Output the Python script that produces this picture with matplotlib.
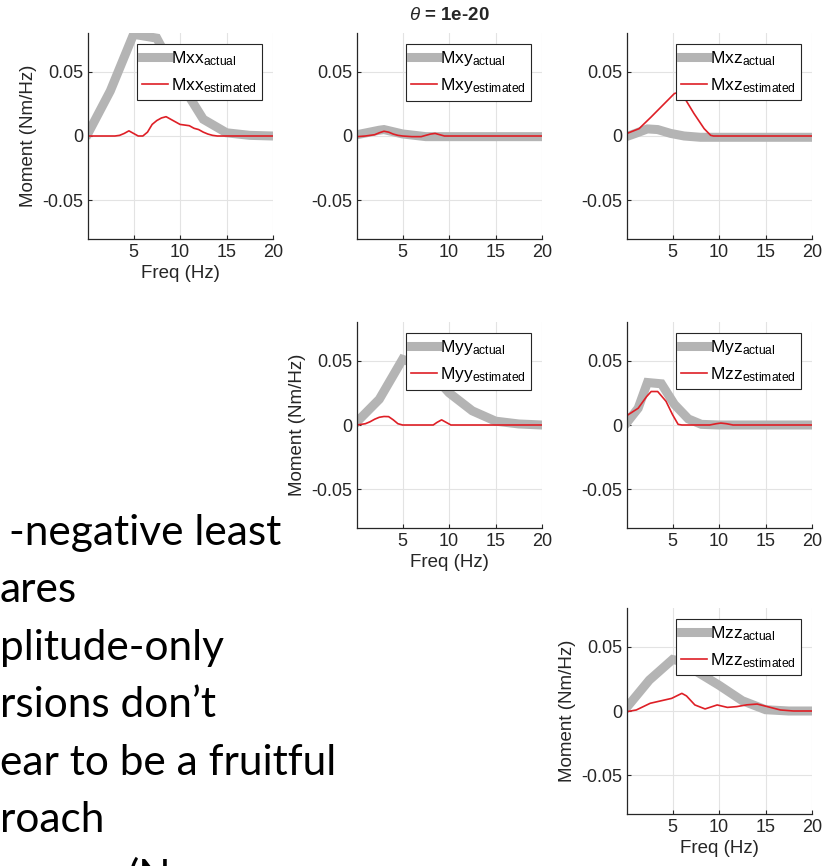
#%%
# estimated vs actual moment spectra, non-negative least squares (theta = 1e-20)
import matplotlib
matplotlib.use('Agg')
import matplotlib.pyplot as plt

# %%
# values, freq in Hz, moment in Nm/Hz
mxx_act_f = [0.1, 2.5, 5, 7.5, 10, 12.5, 15, 17.5, 20]
mxx_act = [0.002, 0.035, 0.079, 0.076, 0.042, 0.013, 0.0025, 0.0005, 0.0]
mxx_est_f = [0.1, 1, 2, 3, 3.5, 4, 4.5, 5, 5.5, 6, 6.5, 7, 7.5, 8, 8.5, 9, 9.5,
             10, 10.5, 11, 11.5, 12, 12.5, 13, 13.5, 14, 15, 20]
mxx_est = [0, 0, 0, 0, 0.0005, 0.002, 0.004, 0.002, 0, 0, 0.003, 0.009, 0.012,
           0.014, 0.015, 0.013, 0.011, 0.009, 0.0085, 0.008, 0.006, 0.005, 0.003,
           0.0015, 0.0005, 0, 0, 0]

mxy_act_f = [0.1, 2.5, 3, 5, 7.5, 10, 12.5, 15, 17.5, 20]
mxy_act = [0.001, 0.0045, 0.005, 0.0016, -0.0005, -0.0005, -0.0005, -0.0005, -0.0005, -0.0005]
mxy_est_f = [0.1, 1, 2, 2.5, 3, 3.5, 4, 4.5, 5, 6, 7, 7.5, 8, 8.5, 9, 9.5, 20]
mxy_est = [-0.0005, 0, 0.001, 0.0025, 0.0037, 0.003, 0.0015, 0.0005, 0, -0.0005,
           -0.0005, 0.0005, 0.0015, 0.002, 0.001, 0, 0]

mxz_act_f = [0.1, 1, 2.3, 3.4, 4.8, 6.25, 8, 10, 20]
mxz_act = [-0.0003, 0.002, 0.0055, 0.005, 0.002, 0.0, -0.001, -0.001, -0.001]
mxz_est_f = [0.1, 1.4, 2.7, 4.1, 5.2, 5.7, 6.25, 7.3, 8.4, 9.1, 9.4, 20]
mxz_est = [0.002, 0.0057, 0.0148, 0.025, 0.033, 0.034, 0.030, 0.0175, 0.0057, 0.0005, 0, 0]

myy_act_f = [0.1, 2.5, 5, 7.5, 10, 12.5, 15, 17.5, 20]
myy_act = [0.0025, 0.02, 0.051, 0.045, 0.025, 0.011, 0.003, 0.0008, 0.0]
myy_est_f = [0.1, 1, 1.5, 2, 2.5, 3, 3.5, 4, 4.5, 5, 8.3, 8.7, 9.2, 9.7, 10.2, 20]
myy_est = [0, 0.001, 0.0025, 0.0045, 0.006, 0.0066, 0.0065, 0.004, 0.001, 0, 0,
           0.002, 0.004, 0.002, 0, 0]

myz_act_f = [0.1, 1.3, 2.3, 3.8, 5.2, 6.7, 8.1, 10, 20]
myz_act = [0.002, 0.013, 0.033, 0.032, 0.016, 0.0047, 0.0005, 0, 0]
mzz_est2_f = [0.1, 1.3, 2.2, 2.7, 3.4, 4.3, 5.0, 5.6, 6, 9, 9.7, 10.2, 10.8, 11.5, 20]
mzz_est2 = [0.0074, 0.013, 0.022, 0.026, 0.026, 0.0184, 0.008, 0.0005, 0, 0,
            0.001, 0.0015, 0.001, 0, 0]

mzz_act_f = [0.1, 2.5, 5, 6.3, 7.5, 10, 12.5, 15, 17.5, 20]
mzz_act = [0.003, 0.024, 0.04, 0.038, 0.031, 0.02, 0.008, 0.001, 0.0, 0.0]
mzz_est_f = [0.1, 1.1, 2.6, 4.9, 6.0, 6.5, 7.4, 8.5, 9.8, 10.9, 11.9, 13, 14.1,
             15.2, 16.6, 18, 20]
mzz_est = [-0.0005, 0.0008, 0.006, 0.0098, 0.0137, 0.0117, 0.0047, 0.0016, 0.0047,
           0.0028, 0.0034, 0.0048, 0.0054, 0.0034, 0.0008, 0, 0]

# (name, labels, actual, estimated, left px, top px, show axis labels)
panels = [
    ('Mxx', 'Mxx', (mxx_act_f, mxx_act), (mxx_est_f, mxx_est), 88, 33, True),
    ('Mxy', 'Mxy', (mxy_act_f, mxy_act), (mxy_est_f, mxy_est), 357, 33, False),
    ('Mxz', 'Mxz', (mxz_act_f, mxz_act), (mxz_est_f, mxz_est), 627, 33, False),
    ('Myy', 'Myy', (myy_act_f, myy_act), (myy_est_f, myy_est), 357, 322, True),
    ('Myz', 'Mzz', (myz_act_f, myz_act), (mzz_est2_f, mzz_est2), 627, 322, False),
    ('Mzz', 'Mzz', (mzz_act_f, mzz_act), (mzz_est_f, mzz_est), 627, 608, True),
]

bullet_lines = ['-negative least', 'ares', 'plitude-only', 'rsions don\u2019t',
                'ear to be a fruitful', 'roach', '(N']
bullet_x = [9, 0, 0, 0, 0, 0, 127]

# %%
plt.rcParams['font.family'] = ['Liberation Sans', 'DejaVu Sans']
plt.rcParams['mathtext.fontset'] = 'custom'
plt.rcParams['mathtext.rm'] = 'Liberation Sans'
plt.rcParams['mathtext.it'] = 'Liberation Sans:italic'
plt.rcParams['mathtext.bf'] = 'Liberation Sans:bold'

W, H = 831, 866
fig = plt.figure(figsize=(W / 100, H / 100), dpi=100)
gray = '#b4b4b4'
red = '#de1f26'
dark = '#262626'

for act_name, est_name, act, est, left, top, labels in panels:
    ax = fig.add_axes([left / W, 1 - (top + 206) / H, 185 / W, 206 / H])
    ax.plot(act[0], act[1], color=gray, lw=6.5, solid_joinstyle='miter',
            label=act_name + r'$_{\mathrm{actual}}$')
    ax.plot(est[0], est[1], color=red, lw=1.2,
            label=est_name + r'$_{\mathrm{estimated}}$')
    ax.set_xlim(0.1, 20)
    ax.set_ylim(-0.08, 0.08)
    ax.set_xticks([5, 10, 15, 20])
    ax.set_yticks([-0.05, 0, 0.05])
    ax.set_yticklabels(['-0.05', '0', '0.05'])
    ax.grid(True, color='#e3e3e3', lw=0.8)
    ax.set_axisbelow(True)
    for s in ['top', 'right']:
        ax.spines[s].set_visible(False)
    for s in ['left', 'bottom']:
        ax.spines[s].set_color(dark)
        ax.spines[s].set_linewidth(0.9)
    ax.tick_params(direction='in', length=3, width=0.8, colors=dark, labelsize=13)
    if labels:
        ax.set_xlabel('Freq (Hz)', fontsize=13.5, color=dark, labelpad=3)
        ax.set_ylabel('Moment (Nm/Hz)', fontsize=13.5, color=dark)
    leg = ax.legend(loc='upper right', fontsize=12.5, fancybox=False, framealpha=1,
                    edgecolor=dark, handlelength=1.5, handletextpad=0.15,
                    borderpad=0.3, labelspacing=0.45, borderaxespad=0.65)
    leg.get_frame().set_linewidth(0.8)
    if act_name == 'Mxy':
        ax.set_title(r'$\theta$ = 1e-20', fontsize=13.5, fontweight='bold',
                     color=dark, pad=9)

# slide text, cut at the left edge
for i, (line, x) in enumerate(zip(bullet_lines, bullet_x)):
    y = 545 + 57.4 * i
    fig.text(x / W, 1 - y / H, line, fontsize=30.5, family=['Lato', 'DejaVu Sans'],
             va='baseline', ha='left', color='black')

fig.savefig('out.png', dpi=100)
